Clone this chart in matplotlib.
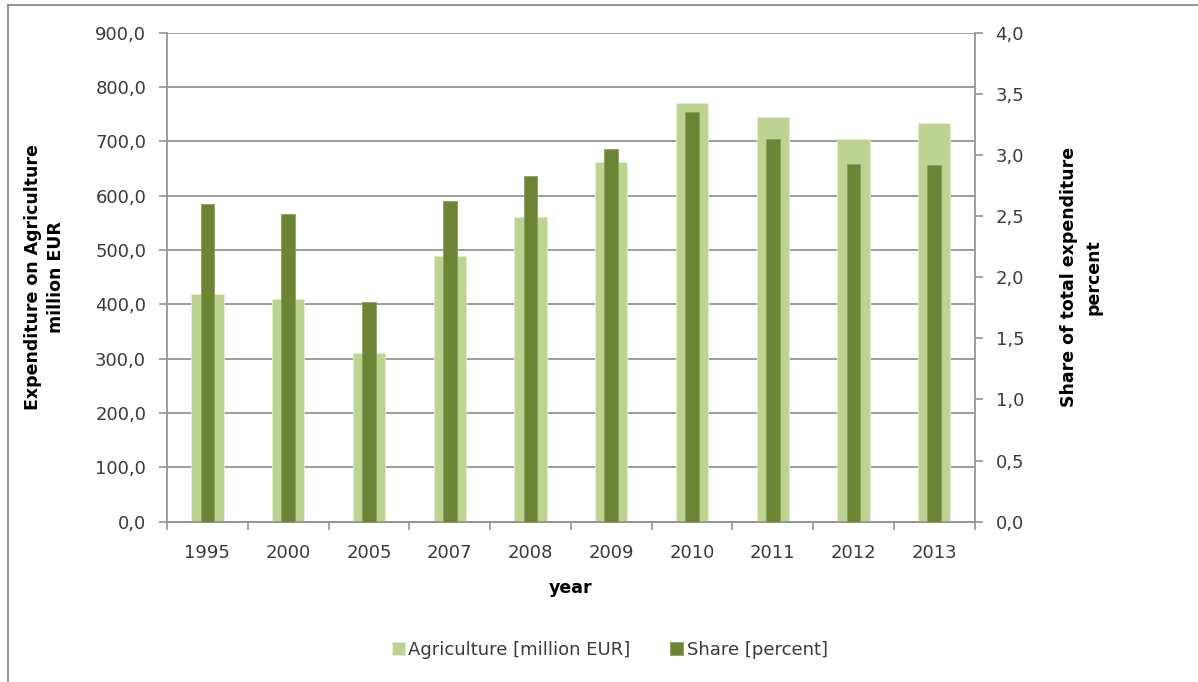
import matplotlib
matplotlib.use("Agg")
import matplotlib.pyplot as plt
from matplotlib.lines import Line2D
from matplotlib.ticker import FuncFormatter, MultipleLocator
import numpy as np

years = ["1995", "2000", "2005", "2007", "2008", "2009", "2010", "2011", "2012", "2013"]
agriculture = [420, 410, 310, 489, 560, 663, 771, 744, 704, 733]
share = [2.60, 2.52, 1.80, 2.62, 2.83, 3.05, 3.35, 3.13, 2.93, 2.92]

light = "#BDD391"
dark = "#6B8535"
grid_c = "#959595"
txt_c = "#3A3A3A"
fs = 13

plt.rcParams['font.family'] = ['DejaVu Sans']

fig = plt.figure(figsize=(11.98, 6.82), dpi=100)
ax = fig.add_axes([0.1394, 0.235, 0.8136 - 0.1394, 0.952 - 0.235])
ax2 = ax.twinx()

x = np.arange(len(years))
ax.bar(x, agriculture, width=0.40, color=light, edgecolor="#E2ECCF", linewidth=0.6, zorder=3,
       label="Agriculture [million EUR]")
ax2.bar(x, share, width=0.17, color=dark, edgecolor="#8AA15A", linewidth=0.6, zorder=3,
        label="Share [percent]")

ax.set_xlim(-0.5, len(years) - 0.5)
ax.set_ylim(0, 900)
ax2.set_ylim(0, 4.0)

ax.yaxis.set_major_locator(MultipleLocator(100))
ax2.yaxis.set_major_locator(MultipleLocator(0.5))
fmt1 = FuncFormatter(lambda v, p: f"{v:.1f}".replace(".", ","))
ax.yaxis.set_major_formatter(fmt1)
ax2.yaxis.set_major_formatter(fmt1)

ax.set_xticks(x)
ax.set_xticklabels(years)
ax.set_xticks(np.arange(-0.5, len(years)), minor=True)
ax.tick_params(axis='x', which='major', length=0, pad=16, labelsize=fs, labelcolor=txt_c)
ax.tick_params(axis='x', which='minor', length=6, width=1.2, color=grid_c, direction='out')
ax.tick_params(axis='y', length=6, width=1.2, color=grid_c, direction='out', pad=9,
               labelsize=fs, labelcolor=txt_c)
ax2.tick_params(axis='y', length=6, width=1.2, color=grid_c, direction='out', pad=9,
                labelsize=fs, labelcolor=txt_c)

ax.grid(axis='y', color=grid_c, linewidth=1.3, zorder=0)
ax.set_axisbelow(True)

for a in (ax, ax2):
    a.spines["top"].set_visible(False)
    for s in ("left", "right", "bottom"):
        a.spines[s].set_color(grid_c)
        a.spines[s].set_linewidth(1.3)
ax.spines["right"].set_visible(False)
ax2.spines["left"].set_visible(False)

ax.set_xlabel("year", fontsize=12.5, fontweight="bold", labelpad=12)
ax.set_ylabel("Expenditure on Agriculture\nmillion EUR", fontsize=12.5, fontweight="bold",
              labelpad=22, linespacing=1.3)
ax2.set_ylabel("Share of total expenditure\npercent", fontsize=12.5, fontweight="bold",
               rotation=90, labelpad=26, linespacing=1.45)

h1, l1 = ax.get_legend_handles_labels()
h2, l2 = ax2.get_legend_handles_labels()
fig.legend(h1 + h2, l1 + l2, loc="center", bbox_to_anchor=(0.509, 0.047), ncol=2, frameon=False,
           fontsize=fs, handlelength=0.7, handleheight=0.7, handletextpad=0.2, columnspacing=2.2,
           labelcolor=txt_c)

# outer border (left and top)
fig.add_artist(Line2D([8 / 1198, 8 / 1198], [0, 1 - 5 / 682], transform=fig.transFigure,
                      color="#8C8C8C", linewidth=1.3))
fig.add_artist(Line2D([8 / 1198, 1], [1 - 5 / 682, 1 - 5 / 682], transform=fig.transFigure,
                      color="#8C8C8C", linewidth=1.3))

fig.savefig("out.png", dpi=100)
